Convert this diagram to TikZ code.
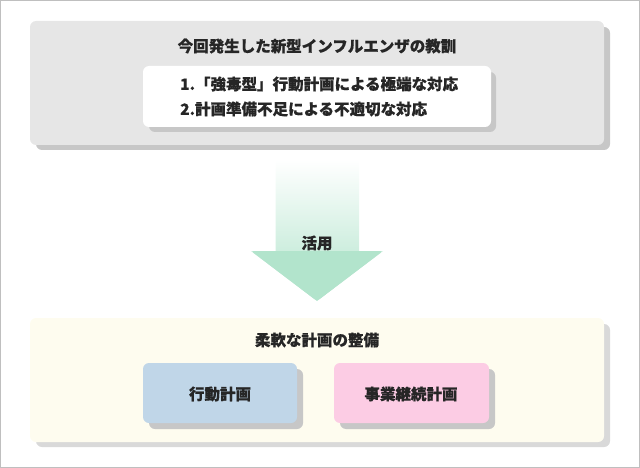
\documentclass[tikz,border=0pt]{standalone}
\usepackage{fontspec}
\setmainfont{Noto Sans CJK JP}[FakeBold=0.6]
\begin{document}
\begin{tikzpicture}[x=1pt,y=-1pt,
  box/.style={rounded corners=6pt},
  sh/.style={fill=black!22,rounded corners=6pt},
  txt/.style={text=black!85,font=\fontsize{15.5}{17}\selectfont\bfseries,inner sep=0pt}]
\definecolor{grayb}{HTML}{E6E6E6}
\definecolor{yel}{HTML}{FEFCEF}
\definecolor{blu}{HTML}{C0D6E8}
\definecolor{pnk}{HTML}{FCCCE4}
\definecolor{grn}{HTML}{B2E4CC}
\useasboundingbox (0,0) rectangle (640,468);
\draw[black!25,line width=1pt] (0.5,0.5) rectangle (639.5,467.5);
% top
\fill[sh] (36,27) rectangle (610,150);
\fill[grayb,box] (30,21) rectangle (604,145);
\node[txt] (t1) at (317,46) {今回発生した新型インフルエンザの教訓};
\fill[sh] (149,72) rectangle (496,132);
\fill[white,box] (143,66) rectangle (491,127);
\node[txt,anchor=west] (l1) at (180,84) {1.「強毒型」行動計画による極端な対応};
\node[txt,anchor=west] (l2) at (180,109) {2.計画準備不足による不適切な対応};
% arrow
\shade[top color=white,bottom color=grn,middle color=grn!50]
  (275.5,160) -- (359,160) -- (359,251) -- (383,251) -- (317,301) -- (251,251) -- (275.5,251) -- cycle;
\fill[grn,rounded corners=3pt] (251,251) -- (383,251) -- (317,301) -- cycle;
\node[txt] (u) at (317,243) {活用};
% bottom
\fill[sh,fill=black!15] (36,324) rectangle (610,447);
\fill[yel,box] (30,318) rectangle (604,442);
\node[txt] (b1) at (317,340) {柔軟な計画の整備};
\fill[sh] (149,369) rectangle (303,429);
\fill[blu,box] (143,363) rectangle (297,423);
\node[txt] (p1) at (220,394) {行動計画};
\fill[sh] (340,369) rectangle (495,429);
\fill[pnk,box] (334,363) rectangle (489,423);
\node[txt] (p2) at (411,394) {事業継続計画};
\end{tikzpicture}
\end{document}
